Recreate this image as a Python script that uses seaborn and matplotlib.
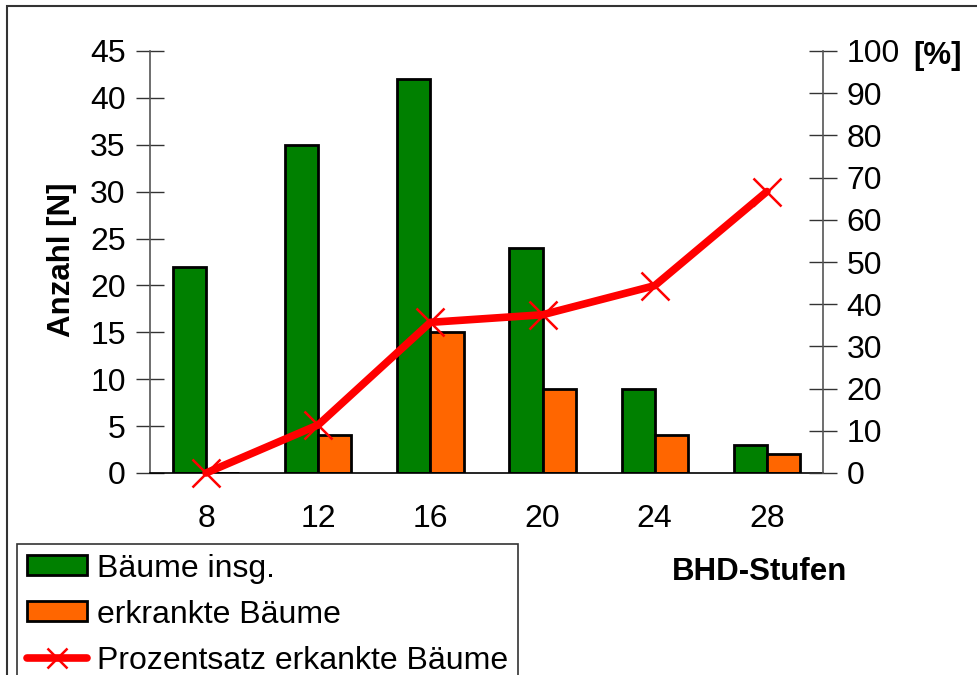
import numpy as np
import pandas as pd
import matplotlib
matplotlib.use("Agg")
import matplotlib.pyplot as plt
from matplotlib.patches import Rectangle, Patch
from matplotlib.lines import Line2D
import seaborn as sns

# BHD classes and tree counts
stufen = ["8", "12", "16", "20", "24", "28"]
baeume_insg = [22, 35, 42, 24, 9, 3]
erkrankt = [0, 4, 15, 9, 4, 2]
prozent = [0.0, 11.4, 35.7, 37.5, 44.4, 66.7]

label_insg = "Bäume insg."
label_erkr = "erkrankte Bäume"
label_proz = "Prozentsatz erkankte Bäume"

green = "#008000"
orange = "#FF6600"
red = "#FF0000"

sns.set_theme(style="white")
plt.rcParams["font.family"] = ["Liberation Sans", "DejaVu Sans"]
plt.rcParams["text.color"] = "black"
plt.rcParams["axes.labelcolor"] = "black"
plt.rcParams["xtick.color"] = "black"
plt.rcParams["ytick.color"] = "black"

FS = 23

df = pd.DataFrame({
    "Stufe": stufen * 2,
    "Anzahl": baeume_insg + erkrankt,
    "Serie": [label_insg] * len(stufen) + [label_erkr] * len(stufen),
})

fig = plt.figure(figsize=(9.78, 6.75), dpi=100)
ax = fig.add_axes([150 / 978, 1 - 473 / 675, (823 - 150) / 978, (473 - 51) / 675])

sns.barplot(data=df, x="Stufe", y="Anzahl", hue="Serie", order=stufen,
            hue_order=[label_insg, label_erkr], palette=[green, orange],
            width=0.59, edgecolor="black", linewidth=2, saturation=1,
            legend=False, ax=ax)

ax.set_xlim(-0.5, len(stufen) - 0.5)
ax.set_ylim(0, 45)
ax.set_yticks(np.arange(0, 46, 5))
ax.set_xlabel("")
ax.set_ylabel("Anzahl [N]", fontsize=22.5, fontweight="bold")
ax.yaxis.set_label_coords((77 - 150) / 673, (473 - 260) / 422)

ax.set_xticks(np.arange(-0.5, len(stufen), 1.0), minor=True)
ax.tick_params(axis="x", which="major", length=0, labelsize=FS, pad=22)
ax.tick_params(axis="x", which="minor", direction="inout", length=20, width=1, color="#333333")
ax.tick_params(axis="y", direction="inout", length=20, width=1, color="#333333",
               labelsize=FS, left=True, pad=7.5)

for side in ["top", "right"]:
    ax.spines[side].set_visible(False)
ax.spines["left"].set_color("#555555")
ax.spines["left"].set_linewidth(1.2)
ax.spines["bottom"].set_color("black")
ax.spines["bottom"].set_linewidth(1.2)

ax2 = ax.twinx()
pos = np.arange(len(stufen))
sns.lineplot(x=pos, y=prozent, color=red, linewidth=5.5, marker="x",
             markersize=20, markeredgewidth=1.8, markeredgecolor=red,
             solid_capstyle="round", ax=ax2, zorder=5)
ax2.set_ylim(0, 100)
ax2.set_yticks(np.arange(0, 101, 10))
ax2.set_xlim(-0.5, len(stufen) - 0.5)
ax2.tick_params(axis="y", direction="inout", length=20, width=1, color="#333333",
                labelsize=FS, right=True, pad=7)
for side in ["top", "left", "bottom"]:
    ax2.spines[side].set_visible(False)
ax2.spines["right"].set_color("#555555")
ax2.spines["right"].set_linewidth(1.2)
for ln in ax2.lines:
    ln.set_clip_on(False)

fig.text(938 / 978, 1 - 56 / 675, "[%]", fontsize=22.5, fontweight="bold",
         ha="center", va="center")
fig.text(760 / 978, 1 - 572 / 675, "BHD-Stufen", fontsize=22.5, fontweight="bold",
         ha="center", va="center")

# outer frame
fig.patches.append(Rectangle((7 / 978, -0.1), 1.1, 1 - 6 / 675 + 0.1,
                             transform=fig.transFigure, fill=False,
                             edgecolor="#333333", linewidth=1.5, zorder=0))

handles = [
    Patch(facecolor=green, edgecolor="black", linewidth=2),
    Patch(facecolor=orange, edgecolor="black", linewidth=2),
    Line2D([0], [0], color=red, linewidth=5.5, marker="x", markersize=15,
           markeredgewidth=1.8, solid_capstyle="round"),
]
leg = fig.legend(handles, [label_insg, label_erkr, label_proz],
                 loc="upper left", bbox_to_anchor=(17 / 978, 1 - 544 / 675),
                 bbox_transform=fig.transFigure, borderaxespad=0,
                 fontsize=FS, frameon=True, fancybox=False, framealpha=1,
                 edgecolor="#333333", handlelength=1.9, handleheight=0.6,
                 handletextpad=0.3, labelspacing=0.5, borderpad=0.3)
leg.get_frame().set_linewidth(1.2)

fig.savefig("out.png", dpi=100)
